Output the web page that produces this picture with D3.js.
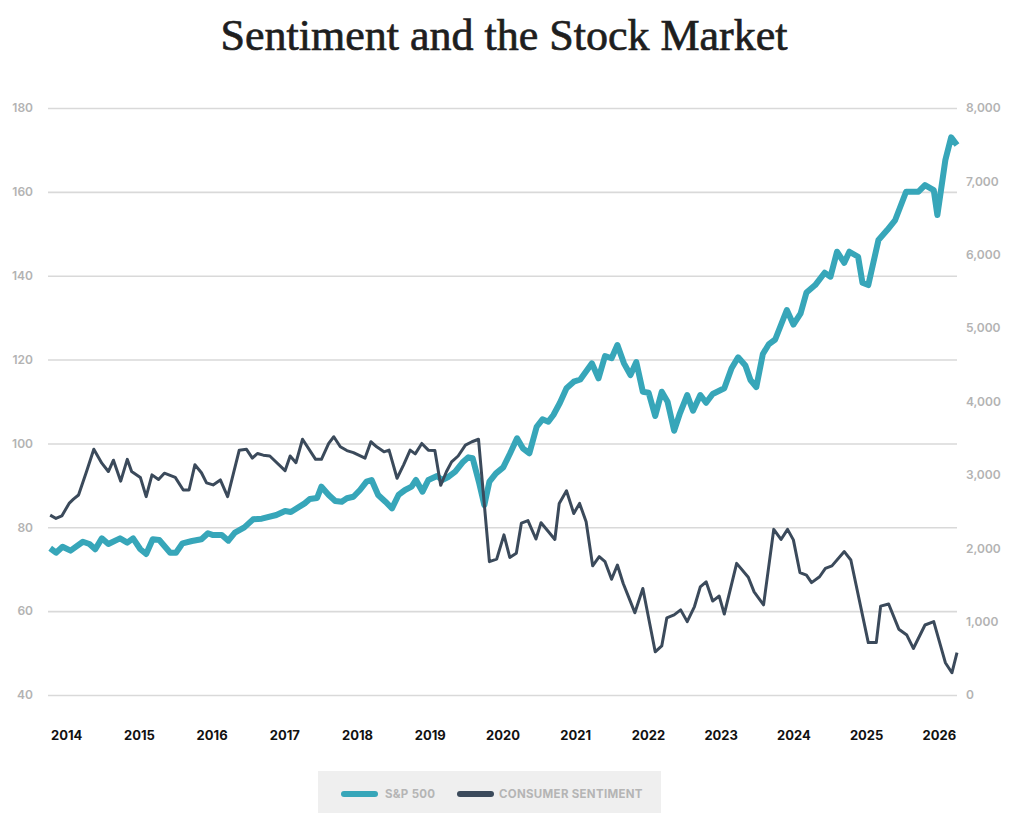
<!DOCTYPE html>
<html>
<head>
<meta charset="utf-8">
<script src="https://cdn.jsdelivr.net/npm/d3@7"></script>
<style>
  body { margin: 0; background: #fff; }
  svg { display: block; }
</style>
</head>
<body>
<div class="chart"></div>
<script>

// S&P 500 (right axis) - decimal year / index level
var spYears = [2014.28, 2014.36, 2014.45, 2014.56, 2014.73, 2014.82, 2014.90, 2014.99, 2015.08, 2015.24,
  2015.34, 2015.42, 2015.52, 2015.60, 2015.69, 2015.78, 2015.93, 2016.01, 2016.10, 2016.23,
  2016.36, 2016.45, 2016.52, 2016.64, 2016.73, 2016.82, 2016.95, 2017.07, 2017.19, 2017.39,
  2017.51, 2017.59, 2017.78, 2017.85, 2017.95, 2018.01, 2018.11, 2018.20, 2018.29, 2018.36,
  2018.45, 2018.54, 2018.63, 2018.70, 2018.79, 2018.89, 2018.98, 2019.07, 2019.16, 2019.25,
  2019.31, 2019.40, 2019.48, 2019.60, 2019.67, 2019.76, 2019.85, 2019.96, 2020.03, 2020.09,
  2020.18, 2020.25, 2020.32, 2020.41, 2020.51, 2020.60, 2020.70, 2020.78, 2020.87, 2020.97,
  2021.05, 2021.13, 2021.20, 2021.29, 2021.38, 2021.48, 2021.57, 2021.73, 2021.82, 2021.91,
  2022.00, 2022.08, 2022.17, 2022.26, 2022.34, 2022.43, 2022.51, 2022.60, 2022.69, 2022.77,
  2022.86, 2022.94, 2023.04, 2023.12, 2023.22, 2023.30, 2023.39, 2023.55, 2023.65, 2023.74,
  2023.84, 2023.91, 2023.99, 2024.08, 2024.16, 2024.25, 2024.41, 2024.50, 2024.60, 2024.68,
  2024.80, 2024.93, 2025.01, 2025.10, 2025.20, 2025.27, 2025.39, 2025.45, 2025.53, 2025.67,
  2025.79, 2025.90, 2026.05, 2026.22, 2026.31, 2026.43, 2026.48, 2026.59, 2026.67, 2026.75];
var spValues = [2000, 1939, 2021, 1967, 2089, 2058, 1986, 2135, 2058, 2135,
  2076, 2135, 1986, 1922, 2122, 2112, 1939, 1939, 2067, 2099,
  2122, 2204, 2180, 2180, 2103, 2212, 2285, 2394, 2403, 2453,
  2508, 2494, 2612, 2671, 2685, 2839, 2726, 2644, 2634, 2681,
  2702, 2794, 2907, 2930, 2726, 2634, 2544, 2726, 2794, 2839,
  2930, 2771, 2930, 2985, 2930, 2975, 3043, 3179, 3239, 3226,
  2885, 2589, 2907, 3021, 3103, 3284, 3498, 3362, 3294, 3656,
  3757, 3725, 3816, 3983, 4180, 4270, 4300, 4520, 4316, 4620,
  4589, 4770, 4520, 4361, 4538, 4133, 4120, 3802, 4133, 3997,
  3602, 3839, 4088, 3874, 4088, 3983, 4102, 4180, 4452, 4602,
  4490, 4293, 4197, 4647, 4777, 4845, 5247, 5049, 5202, 5485,
  5587, 5755, 5701, 6041, 5891, 6041, 5973, 5619, 5587, 6201,
  6337, 6473, 6859, 6859, 6950, 6882, 6541, 7291, 7600, 7495];

// Consumer sentiment (left axis)
var sentYears = [2014.28, 2014.36, 2014.44, 2014.54, 2014.60, 2014.67, 2014.78, 2014.88, 2014.99, 2015.08,
  2015.15, 2015.25, 2015.34, 2015.40, 2015.52, 2015.60, 2015.68, 2015.77, 2015.85, 2016.00,
  2016.11, 2016.19, 2016.27, 2016.36, 2016.43, 2016.52, 2016.62, 2016.72, 2016.88, 2016.98,
  2017.06, 2017.13, 2017.21, 2017.30, 2017.51, 2017.58, 2017.66, 2017.75, 2017.93, 2018.01,
  2018.11, 2018.18, 2018.27, 2018.36, 2018.45, 2018.61, 2018.69, 2018.77, 2018.87, 2018.94,
  2019.05, 2019.14, 2019.23, 2019.30, 2019.39, 2019.48, 2019.57, 2019.65, 2019.73, 2019.80,
  2019.89, 2019.99, 2020.08, 2020.17, 2020.32, 2020.42, 2020.52, 2020.60, 2020.69, 2020.76,
  2020.85, 2020.96, 2021.03, 2021.13, 2021.22, 2021.28, 2021.38, 2021.48, 2021.56, 2021.65,
  2021.74, 2021.83, 2021.91, 2022.00, 2022.08, 2022.16, 2022.25, 2022.32, 2022.43, 2022.60,
  2022.69, 2022.76, 2022.86, 2022.95, 2023.04, 2023.14, 2023.22, 2023.30, 2023.39, 2023.48,
  2023.55, 2023.72, 2023.88, 2023.96, 2024.09, 2024.23, 2024.33, 2024.42, 2024.50, 2024.59,
  2024.68, 2024.75, 2024.86, 2024.94, 2025.03, 2025.20, 2025.29, 2025.53, 2025.64, 2025.70,
  2025.81, 2025.95, 2026.06, 2026.15, 2026.31, 2026.43, 2026.59, 2026.68, 2026.75];
var sentValues = [82.9, 82.1, 82.7, 85.7, 86.7, 87.7, 93.3, 98.6, 95.3, 93.3,
  96.0, 91.0, 96.2, 93.3, 91.9, 87.3, 92.5, 91.4, 92.9, 91.9,
  88.9, 88.9, 94.9, 93.0, 90.6, 90.1, 91.3, 87.3, 98.4, 98.6,
  96.5, 97.6, 97.2, 97.0, 93.5, 97.0, 95.4, 101.0, 96.2, 96.2,
  100.0, 101.6, 99.2, 98.3, 97.8, 96.5, 100.4, 99.2, 98.0, 98.4,
  91.7, 94.9, 98.4, 97.5, 100.0, 98.4, 98.3, 90.0, 93.3, 95.6,
  97.0, 99.6, 100.4, 101.0, 71.8, 72.4, 78.2, 72.8, 73.8, 81.0,
  81.6, 77.2, 81.1, 79.0, 77.1, 85.7, 88.7, 83.3, 85.7, 81.3,
  70.8, 73.0, 71.8, 67.6, 71.0, 66.6, 62.7, 59.6, 65.4, 50.3,
  51.7, 58.4, 59.1, 60.3, 57.5, 61.1, 65.8, 67.0, 62.4, 63.6,
  59.3, 71.4, 68.1, 64.6, 61.5, 79.5, 77.1, 79.5, 77.0, 69.2,
  68.6, 66.8, 68.2, 70.2, 70.8, 74.2, 72.2, 52.5, 52.5, 61.2,
  61.7, 55.7, 54.3, 51.1, 56.7, 57.5, 47.7, 45.3, 50.1];

var yearTicks = [2014, 2015, 2016, 2017, 2018, 2019, 2020, 2021, 2022, 2023, 2024, 2025, 2026];
var leftTicks = [40, 60, 80, 100, 120, 140, 160, 180];
var rightTicks = [0, 1000, 2000, 3000, 4000, 5000, 6000, 7000, 8000];
var seriesNames = ["S&P 500", "CONSUMER SENTIMENT"];
var seriesColors = ["#37a6b9", "#3b4a5b"];

var width = 1024, height = 831;
var margin = {top: 108, right: 67, bottom: 136, left: 48};
var innerW = width - margin.left - margin.right,
    innerH = height - margin.top - margin.bottom;

var svg = d3.select(".chart")
  .append("svg")
    .attr("width", width)
    .attr("height", height);

svg.append("text")
  .attr("x", 504)
  .attr("y", 50)
  .style("text-anchor", "middle")
  .style("font-family", "Liberation Serif, DejaVu Serif, serif")
  .style("font-size", "44px")
  .style("fill", "#1e1e1e")
  .style("stroke", "#1e1e1e")
  .style("stroke-width", 0.7)
  .text("Sentiment and the Stock Market");

var g = svg.append("g")
  .attr("transform", "translate(" + margin.left + "," + margin.top + ")");

var x = d3.scaleLinear().domain([2014.25, 2026.75]).range([0, innerW]);
var yLeft = d3.scaleLinear().domain([40, 180]).range([innerH, 0]);
var yRight = d3.scaleLinear().domain([0, 8000]).range([innerH, 0]);

// gridlines from left axis
g.append("g")
  .attr("class", "grid")
  .call(d3.axisLeft(yLeft).tickValues(leftTicks).tickSize(-innerW).tickFormat(""))
  .call(function(a) {
    a.select(".domain").remove();
    a.selectAll("line").style("stroke", "#d9d9d9").style("stroke-width", 1.6);
  });

g.append("g")
  .call(d3.axisLeft(yLeft).tickValues(leftTicks).tickSize(0).tickPadding(15))
  .call(function(a) {
    a.select(".domain").remove();
    a.selectAll("text")
      .style("font-family", "Inter, sans-serif")
      .style("font-weight", "600")
      .style("font-size", "12px")
      .style("fill", "#b3b3b3");
  });

g.append("g")
  .attr("transform", "translate(" + innerW + ",0)")
  .call(d3.axisRight(yRight).tickValues(rightTicks).tickSize(0).tickPadding(9).tickFormat(d3.format(",")))
  .call(function(a) {
    a.select(".domain").remove();
    a.selectAll("text")
      .style("font-family", "Inter, sans-serif")
      .style("font-weight", "600")
      .style("font-size", "12px")
      .style("fill", "#b3b3b3");
  });

g.append("g")
  .attr("transform", "translate(0," + (innerH + 33) + ")")
  .call(d3.axisBottom(x)
    .tickValues(yearTicks.map(function(d) { return d + 0.5; }))
    .tickSize(0)
    .tickFormat(function(d) { return String(Math.floor(d)); }))
  .call(function(a) {
    a.select(".domain").remove();
    a.selectAll("text")
      .style("font-family", "Inter, sans-serif")
      .style("font-weight", "700")
      .style("font-size", "13px")
      .style("fill", "#111");
  });

var spData = spYears.map(function(d, i) { return {t: d, v: spValues[i]}; });
var sentData = sentYears.map(function(d, i) { return {t: d, v: sentValues[i]}; });

var spLine = d3.line()
  .x(function(d) { return x(d.t); })
  .y(function(d) { return yRight(d.v); });

var sentLine = d3.line()
  .x(function(d) { return x(d.t); })
  .y(function(d) { return yLeft(d.v); });

g.append("path")
  .datum(spData)
  .attr("d", spLine)
  .style("fill", "none")
  .style("stroke", seriesColors[0])
  .style("stroke-width", 6)
  .style("stroke-linejoin", "round");

g.append("path")
  .datum(sentData)
  .attr("d", sentLine)
  .style("fill", "none")
  .style("stroke", seriesColors[1])
  .style("stroke-width", 3)
  .style("stroke-linejoin", "round");

// legend
var legend = svg.append("g").attr("transform", "translate(318,771)");
legend.append("rect")
  .attr("width", 343)
  .attr("height", 42)
  .style("fill", "#efefef");

var legendX = [23, 139];
var textX = [67, 181];
for (var i = 0; i < 2; i++) {
  legend.append("line")
    .attr("x1", legendX[i] + 3)
    .attr("x2", legendX[i] + 34)
    .attr("y1", 23)
    .attr("y2", 23)
    .style("stroke", seriesColors[i])
    .style("stroke-width", 6)
    .style("stroke-linecap", "round");
  legend.append("text")
    .attr("x", textX[i])
    .attr("y", 27)
    .style("font-family", "Inter, sans-serif")
    .style("font-weight", "700")
    .style("font-size", "11.5px")
    .style("letter-spacing", "0.3px")
    .style("fill", "#b5b5b5")
    .text(seriesNames[i]);
}

</script>
</body>
</html>
